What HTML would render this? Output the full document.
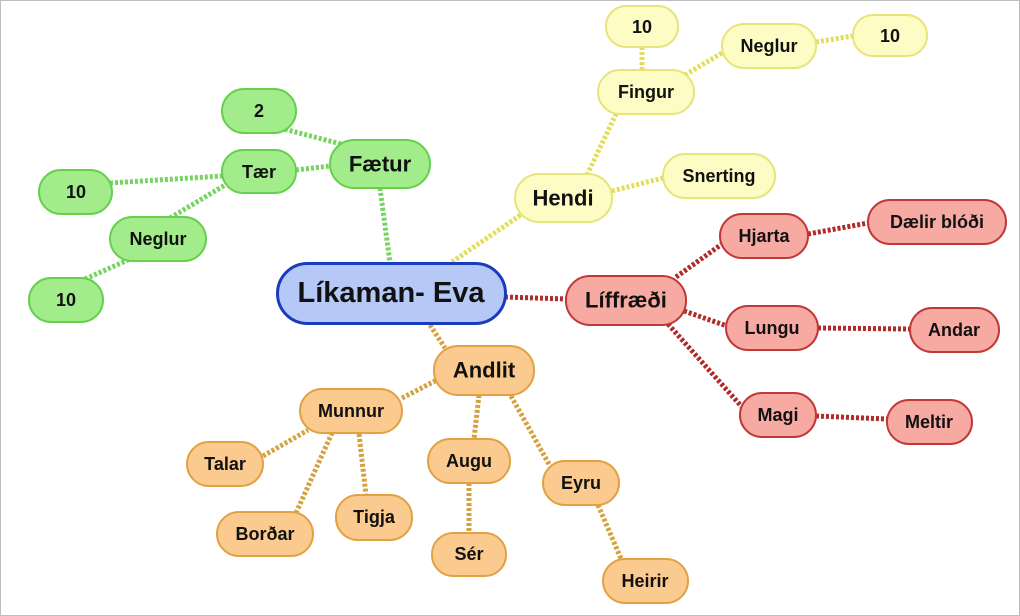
<!DOCTYPE html>
<html><head><meta charset="utf-8"><style>
html,body{margin:0;padding:0;background:#fff;}
svg{display:block;}
text{font-family:"Liberation Sans",sans-serif;font-weight:bold;fill:#111;text-anchor:middle;dominant-baseline:central;}
</style></head><body>
<svg width="1020" height="616" viewBox="0 0 1020 616" xmlns="http://www.w3.org/2000/svg">
<rect x="0.5" y="0.5" width="1019" height="615" fill="#fff" stroke="#bdbdbd"/>
<g stroke-dasharray="3 2" stroke-width="5" fill="none">
<g stroke="#78d462">
<line x1="280" y1="128" x2="345" y2="145"/>
<line x1="296" y1="170" x2="330" y2="166"/>
<line x1="110" y1="183" x2="222" y2="176"/>
<line x1="170" y1="218" x2="225" y2="185"/>
<line x1="85" y1="279" x2="128" y2="260"/>
<line x1="380" y1="188" x2="390" y2="263"/>
</g>
<g stroke="#e2de5c">
<line x1="452" y1="262" x2="525" y2="212"/>
<line x1="587" y1="175" x2="617" y2="112"/>
<line x1="642" y1="47" x2="642" y2="70"/>
<line x1="685" y1="75" x2="722" y2="53"/>
<line x1="816" y1="42" x2="853" y2="36"/>
<line x1="612" y1="191" x2="663" y2="178"/>
</g>
<g stroke="#b02a2a">
<line x1="505" y1="297" x2="566" y2="299"/>
<line x1="676" y1="277" x2="722" y2="244"/>
<line x1="808" y1="234" x2="868" y2="223"/>
<line x1="684" y1="311" x2="727" y2="326"/>
<line x1="818" y1="328" x2="910" y2="329"/>
<line x1="668" y1="324" x2="742" y2="407"/>
<line x1="816" y1="416" x2="887" y2="419"/>
</g>
<g stroke="#d4a240">
<line x1="430" y1="325" x2="445" y2="348"/>
<line x1="402" y1="398" x2="437" y2="380"/>
<line x1="263" y1="456" x2="308" y2="430"/>
<line x1="296" y1="513" x2="332" y2="433"/>
<line x1="359" y1="434" x2="366" y2="495"/>
<line x1="479" y1="395" x2="474" y2="439"/>
<line x1="469" y1="483" x2="469" y2="533"/>
<line x1="511" y1="396" x2="550" y2="466"/>
<line x1="598" y1="505" x2="622" y2="561"/>
</g>
</g>
<g stroke-width="2">
<g fill="#a2ec8c" stroke="#66cf4c">
<rect x="222" y="89" width="74" height="44" rx="22"/>
<rect x="222" y="150" width="74" height="43" rx="21"/>
<rect x="330" y="140" width="100" height="48" rx="24"/>
<rect x="39" y="170" width="73" height="44" rx="22"/>
<rect x="110" y="217" width="96" height="44" rx="22"/>
<rect x="29" y="278" width="74" height="44" rx="22"/>
</g>
<g fill="#fdfcc4" stroke="#e6e47a">
<rect x="606" y="6" width="72" height="41" rx="20"/>
<rect x="722" y="24" width="94" height="44" rx="22"/>
<rect x="853" y="15" width="74" height="41" rx="20"/>
<rect x="598" y="70" width="96" height="44" rx="22"/>
<rect x="515" y="174" width="97" height="48" rx="24"/>
<rect x="663" y="154" width="112" height="44" rx="22"/>
</g>
<g fill="#f7aaa2" stroke="#c03838">
<rect x="566" y="276" width="120" height="49" rx="24"/>
<rect x="720" y="214" width="88" height="44" rx="22"/>
<rect x="868" y="200" width="138" height="44" rx="22"/>
<rect x="726" y="306" width="92" height="44" rx="22"/>
<rect x="910" y="308" width="89" height="44" rx="22"/>
<rect x="740" y="393" width="76" height="44" rx="22"/>
<rect x="887" y="400" width="85" height="44" rx="22"/>
</g>
<g fill="#fbca8e" stroke="#e0a245">
<rect x="434" y="346" width="100" height="49" rx="24"/>
<rect x="300" y="389" width="102" height="44" rx="22"/>
<rect x="187" y="442" width="76" height="44" rx="22"/>
<rect x="217" y="512" width="96" height="44" rx="22"/>
<rect x="336" y="495" width="76" height="45" rx="22"/>
<rect x="428" y="439" width="82" height="44" rx="22"/>
<rect x="432" y="533" width="74" height="43" rx="21"/>
<rect x="543" y="461" width="76" height="44" rx="22"/>
<rect x="603" y="559" width="85" height="44" rx="22"/>
</g>
<rect x="277.5" y="263.5" width="228" height="60" rx="30" fill="#b6c8f6" stroke="#1a3bbd" stroke-width="3"/>
</g>
<g font-size="18">
<text x="259" y="111">2</text>
<text x="259" y="172">Tær</text>
<text x="380" y="164" font-size="22">Fætur</text>
<text x="76" y="192">10</text>
<text x="158" y="239">Neglur</text>
<text x="66" y="300">10</text>
<text x="642" y="27">10</text>
<text x="769" y="46">Neglur</text>
<text x="890" y="36">10</text>
<text x="646" y="92">Fingur</text>
<text x="563" y="198" font-size="22">Hendi</text>
<text x="719" y="176">Snerting</text>
<text x="626" y="300" font-size="22">Líffræði</text>
<text x="764" y="236">Hjarta</text>
<text x="937" y="222">Dælir blóði</text>
<text x="772" y="328">Lungu</text>
<text x="954" y="330">Andar</text>
<text x="778" y="415">Magi</text>
<text x="929" y="422">Meltir</text>
<text x="484" y="370" font-size="22">Andlit</text>
<text x="351" y="411">Munnur</text>
<text x="225" y="464">Talar</text>
<text x="265" y="534">Borðar</text>
<text x="374" y="517">Tigja</text>
<text x="469" y="461">Augu</text>
<text x="469" y="554">Sér</text>
<text x="581" y="483">Eyru</text>
<text x="645" y="581">Heirir</text>
<text x="391" y="293" font-size="29">Líkaman- Eva</text>
</g>
</svg>
</body></html>
